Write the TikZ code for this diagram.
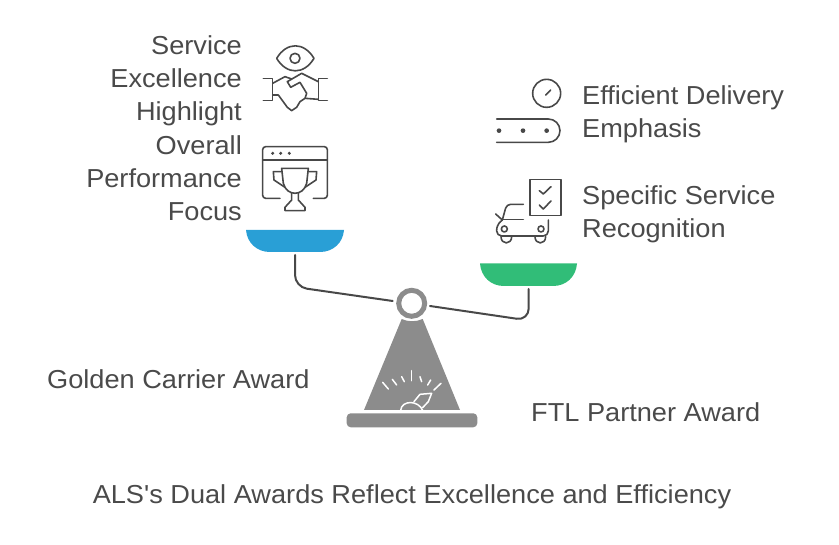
\documentclass[tikz,border=0pt]{standalone}
\usepackage{fontspec}
\newfontfamily\labelfont[FakeStretch=1.045]{Liberation Sans}
\definecolor{textgray}{HTML}{4A4A4A}
\definecolor{icongray}{HTML}{484848}
\definecolor{standgray}{HTML}{8C8C8C}
\definecolor{panblue}{HTML}{299FD6}
\definecolor{pangreen}{HTML}{31BD78}
\tikzset{
  label text/.style={text=textgray, font=\labelfont\fontsize{26}{33}\selectfont, inner sep=0pt},
  icon line/.style={draw=icongray, line width=1.6pt, line cap=round, line join=round},
  icon dot/.style={fill=icongray, draw=none},
  beam line/.style={draw=icongray, line width=2pt, line cap=round, rounded corners=12pt},
  gauge line/.style={draw=white, line width=1.5pt, line cap=round, line join=round}
}
\begin{document}
\begin{tikzpicture}[x=1pt,y=-1pt]
    \useasboundingbox (0,0) rectangle (839,545);

    % Left pan labels
    \node[label text, anchor=east, align=right] (serviceText) at (242,80.5) {Service\\Excellence\\Highlight};
    \node[label text, anchor=east, align=right] (overallText) at (242,178.5) {Overall\\Performance\\Focus};

    % Right pan labels
    \node[label text, anchor=west, align=left] (deliveryText) at (582,114.5) {Efficient Delivery\\Emphasis};
    \node[label text, anchor=west, align=left] (specificText) at (582,214.5) {Specific Service\\Recognition};

    % Award labels and title
    \node[label text, anchor=west] (goldenText) at (47,379) {Golden Carrier Award};
    \node[label text, anchor=west] (ftlText) at (531,412) {FTL Partner Award};
    \node[label text] (titleText) at (412,497) {ALS's Dual Awards Reflect Excellence and Efficiency};

    % Pans
    \fill[panblue] (246,230) -- (344,230) .. controls (343,243) and (333,252) .. (320,252) -- (270,252) .. controls (257,252) and (247,243) .. (246,230) -- cycle;
    \fill[pangreen] (480,263.5) -- (577,263.5) .. controls (576,277) and (566,286) .. (553,286) -- (504,286) .. controls (491,286) and (481,277) .. (480,263.5) -- cycle;

    % Pivot and beam
    \node[circle, draw=standgray, line width=5pt, minimum size=26pt, inner sep=0pt] (pivot) at (411.7,303.3) {};
    \coordinate (leftEnd) at (295,255);
    \coordinate (rightEnd) at (528.7,289);
    \draw[beam line] (leftEnd) -- (295,287) -- (392.7,301);
    \draw[beam line] (rightEnd) -- (528.7,320.5) -- (430,306);

    % Stand
    \fill[standgray] (401.7,319) .. controls (408,322) and (416,322) .. (422.7,319) -- (460,410) -- (364,410) -- cycle;
    \fill[standgray, rounded corners=4pt] (346.7,427.3) -- (346.7,413.3) -- (477.3,413.3) -- (477.3,427.3) -- cycle;

    % Gauge on the stand
    \begin{scope}[shift={(240,225)}, x=0.3333pt, y=-0.3333pt]
        \draw[gauge line] (428,472) -- (445,492);
        \draw[gauge line] (457,463) -- (470,480);
        \draw[gauge line] (485,455) -- (493,470);
        \draw[gauge line] (515,437) -- (515,467);
        \draw[gauge line] (540,455) -- (545,470);
        \draw[gauge line] (572,465) -- (563,480);
        \draw[gauge line] (603,475) -- (582,495);
        \draw[gauge line] (482,556) .. controls (485,525) and (535,525) .. (548,556);
        \draw[gauge line] (522,530) -- (540,508) -- (575,505) -- (565,530) -- (548,548);
    \end{scope}

    % Eye and handshake icon
    \begin{scope}[shift={(250,30)}, x=0.3333pt, y=-0.3333pt]
        \draw[icon line] (80,85) .. controls (110,35) and (162,35) .. (192,85) .. controls (162,135) and (110,135) .. (80,85) -- cycle;
        \draw[icon line] (135,85) circle[radius=15];
        \draw[icon line] (40,145) -- (68,145) -- (68,212) -- (40,212);
        \draw[icon line] (232,145) -- (205,145) -- (205,212) -- (232,212);
        \draw[icon line] (68,160) -- (105,140) -- (125,147);
        \draw[icon line] (112,155) -- (155,130) -- (205,155);
        \draw[icon line] (112,155) -- (122,172) -- (150,157) -- (170,190) -- (165,205);
        \draw[icon line] (68,195) -- (85,195) -- (112,232) -- (125,242) -- (140,232) -- (150,215) -- (165,205) -- (205,208);
    \end{scope}

    % Trophy window icon
    \begin{scope}[shift={(250,30)}, x=0.3333pt, y=-0.3333pt]
        \draw[icon line, rounded corners=3pt] (90,505) -- (38,505) -- (38,350) -- (232,350) -- (232,505) -- (190,505);
        \draw[icon line] (38,390) -- (232,390);
        \foreach \dotx in {68,92,118} {
            \fill[icon dot] (\dotx,370) circle[radius=5];
        }
        \draw[icon line] (95,415) -- (175,415) -- (170,460) .. controls (165,480) and (150,490) .. (135,490) .. controls (120,490) and (105,480) .. (100,460) -- cycle;
        \draw[icon line] (95,425) -- (70,425) -- (72,450) -- (105,472);
        \draw[icon line] (175,425) -- (200,425) -- (198,450) -- (165,472);
        \draw[icon line] (125,490) -- (125,510) -- (105,532) -- (105,542) -- (165,542) -- (165,532) -- (145,510) -- (145,490);
    \end{scope}

    % Clock and conveyor icon
    \begin{scope}[shift={(485,70)}, x=0.3333pt, y=-0.3333pt]
        \draw[icon line] (185,70) circle[radius=42];
        \draw[icon line] (182,75) -- (197,60);
        \draw[icon line] (35,147) -- (190,147) arc[start angle=-90, end angle=90, radius=35] -- (35,217);
        \foreach \dotx in {42,114,185} {
            \fill[icon dot] (\dotx,182) circle[radius=7];
        }
    \end{scope}

    % Checklist and car icon
    \begin{scope}[shift={(485,70)}, x=0.3333pt, y=-0.3333pt]
        \draw[icon line] (135,328) rectangle (228,437);
        \draw[icon line] (163,362) -- (175,372) -- (198,350);
        \draw[icon line] (163,405) -- (175,417) -- (198,393);
        \draw[icon line] (32,432) -- (52,450);
        \draw[icon line, rounded corners=4pt] (52,450) -- (65,403) -- (115,403);
        \draw[icon line] (55,448) -- (115,448);
        \draw[icon line, rounded corners=5pt] (52,450) -- (35,465) -- (35,498) -- (190,498) -- (190,450);
        \draw[icon line] (58,477) circle[radius=9];
        \draw[icon line] (168,477) circle[radius=9];
        \draw[icon line] (48,500) .. controls (48,525) and (80,525) .. (80,500);
        \draw[icon line] (150,500) .. controls (150,525) and (182,525) .. (182,500);
    \end{scope}
\end{tikzpicture}
\end{document}
